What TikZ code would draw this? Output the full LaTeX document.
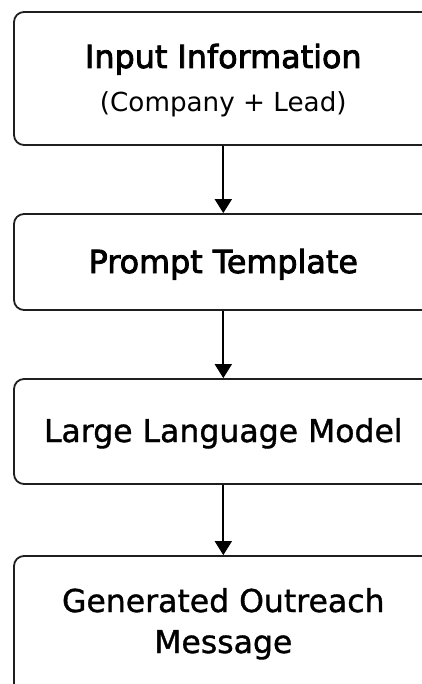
\documentclass[tikz,border=0pt]{standalone}
\usepackage{fontspec}
\setmainfont{DejaVu Sans}
\newfontfamily\semibold[FakeBold=2.6]{DejaVu Sans}
\newfontfamily\medium[FakeBold=1.1]{DejaVu Sans}
\usetikzlibrary{arrows.meta}
\begin{document}
\begin{tikzpicture}[x=1pt,y=-1pt,
  stage/.style={draw=black!88,line width=1.8pt,rounded corners=10pt,
    minimum width=418.6pt,inner sep=0pt},
  caption/.style={anchor=base,inner sep=0pt,font=\fontsize{31.5}{36}\medium},
  heading/.style={anchor=base,inner sep=0pt,font=\fontsize{31.8}{36}\semibold},
  note/.style={anchor=base,inner sep=0pt,font=\fontsize{26.2}{30}\selectfont},
  flow/.style={draw=black,line width=1.8pt,-{Triangle[width=17pt,length=14pt]}}]
\clip (0,0) rectangle (422,684);
\useasboundingbox (0,0) rectangle (422,684);
% the four stages of the pipeline
\node[stage,minimum height=133pt] (input) at (223.3,78.5) {};
\node[stage,minimum height=96pt] (prompt) at (223.3,262) {};
\node[stage,minimum height=105pt] (llm) at (223.3,431.5) {};
\node[stage,minimum height=138pt] (msg) at (223.3,625) {};
% labels, placed on their baselines
\node[heading] (inputtitle) at (223.3,68) {Input Information};
\node[note] (inputnote) at (223.3,112) {(Company + Lead)};
\node[heading] (prompttitle) at (223.3,273) {Prompt Template};
\node[caption] (llmtitle) at (223.3,442) {Large Language Model};
\node[caption] (msgtitle) at (223.3,612) {Generated Outreach};
\node[caption] (msgtitle2) at (223.3,653) {Message};
% connectors
\draw[flow] (input) -- (prompt);
\draw[flow] (prompt) -- (llm);
\draw[flow] (llm) -- (msg);
\end{tikzpicture}
\end{document}
